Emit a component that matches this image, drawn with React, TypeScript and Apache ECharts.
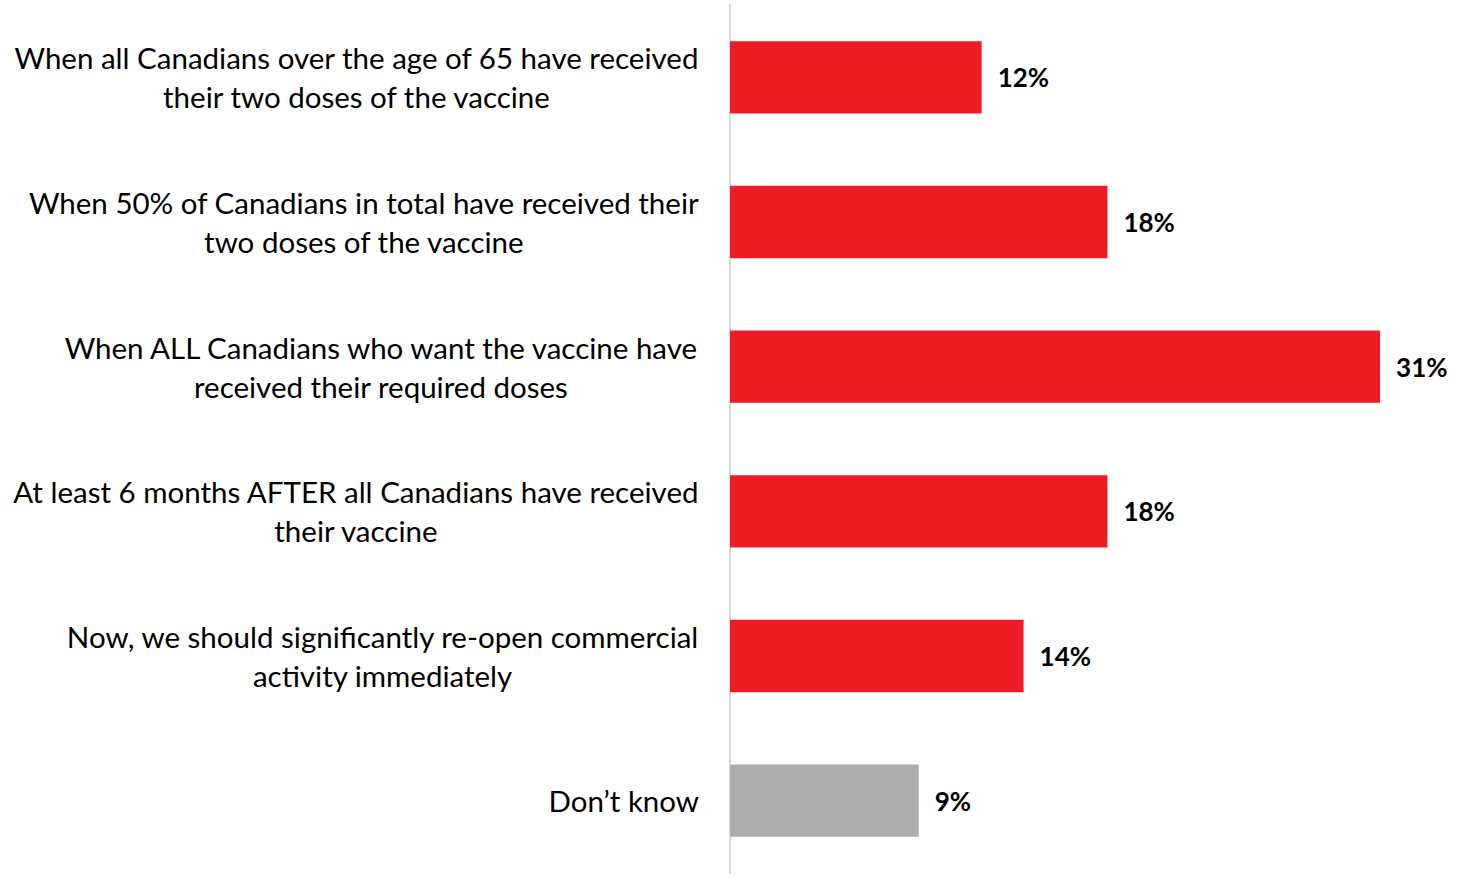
import React, { useEffect, useRef } from "react";
import * as echarts from "echarts";

const categories: string[] = [
  "When all Canadians over the age of 65 have received\ntheir two doses of the vaccine",
  "When 50% of Canadians in total have received their\ntwo doses of the vaccine",
  "When ALL Canadians who want the vaccine have\nreceived their required doses",
  "At least 6 months AFTER all Canadians have received\ntheir vaccine",
  "Now, we should significantly re-open commercial\nactivity immediately",
  "Don\u2019t know",
];
const values: number[] = [12, 18, 31, 18, 14, 9];
const barColors: string[] = ["#ED1C24", "#ED1C24", "#ED1C24", "#ED1C24", "#ED1C24", "#ADADAD"];

const FONT = "Lato";

export default function App() {
  const ref = useRef<HTMLDivElement>(null);
  useEffect(() => {
    document.body.style.margin = "0";
    const chart = echarts.init(ref.current!, null, { renderer: "svg" });
    chart.setOption({
      animation: false,
      grid: { left: 730, right: 39, top: 5, bottom: 6, containLabel: false },
      xAxis: {
        type: "value",
        min: 0,
        max: 33,
        show: false,
      },
      yAxis: {
        type: "category",
        inverse: true,
        data: categories,
        axisLine: { show: true, lineStyle: { color: "#D9D9D9", width: 2 } },
        axisTick: { show: false },
        axisLabel: {
          margin: 31,
          align: "right",
          formatter: (v: string) =>
            v.split("\n").map((l) => "{c|" + l + "}").join("\n"),
          rich: {
            c: {
              align: "center",
              fontFamily: FONT,
              fontSize: 29.5,
              lineHeight: 39,
              color: "#000000",
            },
          },
        },
      },
      series: [
        {
          type: "bar",
          data: values.map((v, i) => ({ value: v, itemStyle: { color: barColors[i] } })),
          barWidth: "50%",
          label: {
            show: true,
            position: "right",
            distance: 16,
            formatter: "{c}%",
            fontFamily: FONT,
            fontWeight: "bold",
            fontSize: 26,
            color: "#000000",
          },
        },
      ],
    });
    return () => chart.dispose();
  }, []);
  return <div ref={ref} style={{ width: 1461, height: 879 }} />;
}
